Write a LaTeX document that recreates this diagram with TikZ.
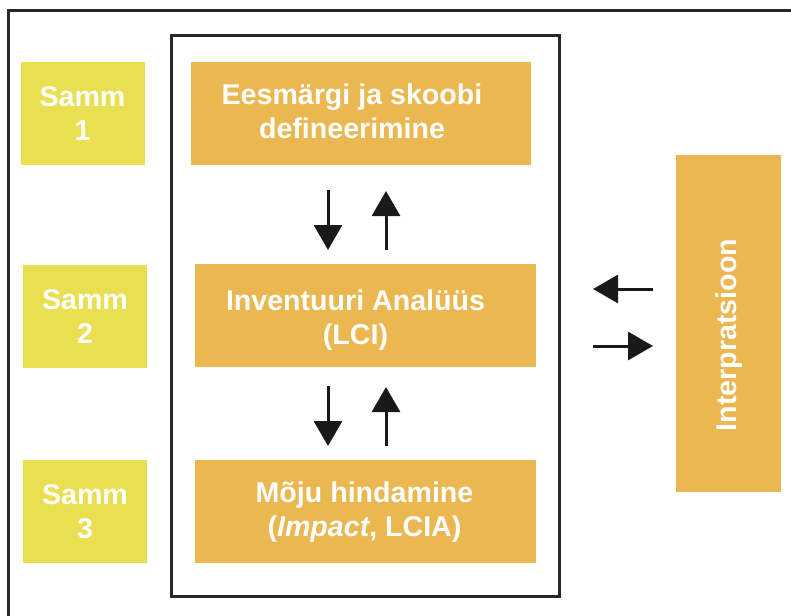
\documentclass[tikz,border=0pt]{standalone}
\usepackage{fontspec}
\setmainfont{Liberation Sans}
\usetikzlibrary{arrows.meta}
\definecolor{sammyellow}{RGB}{234,223,80}
\definecolor{phaseorange}{RGB}{235,183,80}
\definecolor{framegray}{RGB}{40,40,40}
\begin{document}
\begin{tikzpicture}[x=1pt,y=-1pt,
  boxfont/.style={font=\bfseries\fontsize{28.6}{34}\selectfont},
  sammbox/.style={boxfont, fill=sammyellow, text=white, align=center,
    inner sep=0pt, minimum width=124pt, minimum height=103pt},
  phasebox/.style={fill=phaseorange, inner sep=0pt,
    minimum width=341pt, minimum height=103pt},
  phasetext/.style={boxfont, text=white, align=center, inner sep=0pt},
  frameline/.style={draw=framegray, line width=3pt},
  flow/.style={draw=black!90, line width=3pt,
    -{Triangle[width=28pt,length=25pt]}}
]
\useasboundingbox (0,0) rectangle (791,615);

% outer frame, running past the page edge on the right and bottom
\draw[frameline] (8,620) -- (8,11) -- (800,11);
% inner frame around the three phases
\draw[frameline] (171,36) rectangle (559,596);

% step labels
\node[sammbox] (s1) at (82.5,113.5) {Samm\\1};
\node[sammbox] (s2) at (85,316.5) {Samm\\2};
\node[sammbox] (s3) at (85,511.5) {Samm\\3};

% phases
\node[phasebox, minimum width=340pt] (p1) at (361,113.5) {};
\node[phasebox] (p2) at (365.5,315) {};
\node[phasebox] (p3) at (365.5,511.5) {};
\node[phasetext] (p1t) at (352,111) {Eesmärgi ja skoobi\\defineerimine};
\node[phasetext] (p2t) at (355.5,320) {Inventuuri Analüüs\\(LCI)};
\node[phasetext] (p3t) at (364.5,512.5) {Mõju hindamine\\(\textit{Impact}, LCIA)};

% interpretation column
\node[fill=phaseorange, minimum width=105pt, minimum height=337pt, inner sep=0pt]
  (interp) at (728.5,323.5) {};
\node[boxfont, text=white, rotate=90] (interplabel) at (729,335) {Interpratsioon};

% arrow end points
\coordinate (a1s) at (328,190); \coordinate (a1e) at (328,250);
\coordinate (b1s) at (386,250); \coordinate (b1e) at (386,191);
\coordinate (a2s) at (328,386); \coordinate (a2e) at (328,446);
\coordinate (b2s) at (386,446); \coordinate (b2e) at (386,387);
\coordinate (l1s) at (653,289); \coordinate (l1e) at (593,289);
\coordinate (r1s) at (593,346); \coordinate (r1e) at (653,346);

\draw[flow] (a1s) -- (a1e);
\draw[flow] (b1s) -- (b1e);
\draw[flow] (a2s) -- (a2e);
\draw[flow] (b2s) -- (b2e);
\draw[flow] (l1s) -- (l1e);
\draw[flow] (r1s) -- (r1e);
\end{tikzpicture}
\end{document}
